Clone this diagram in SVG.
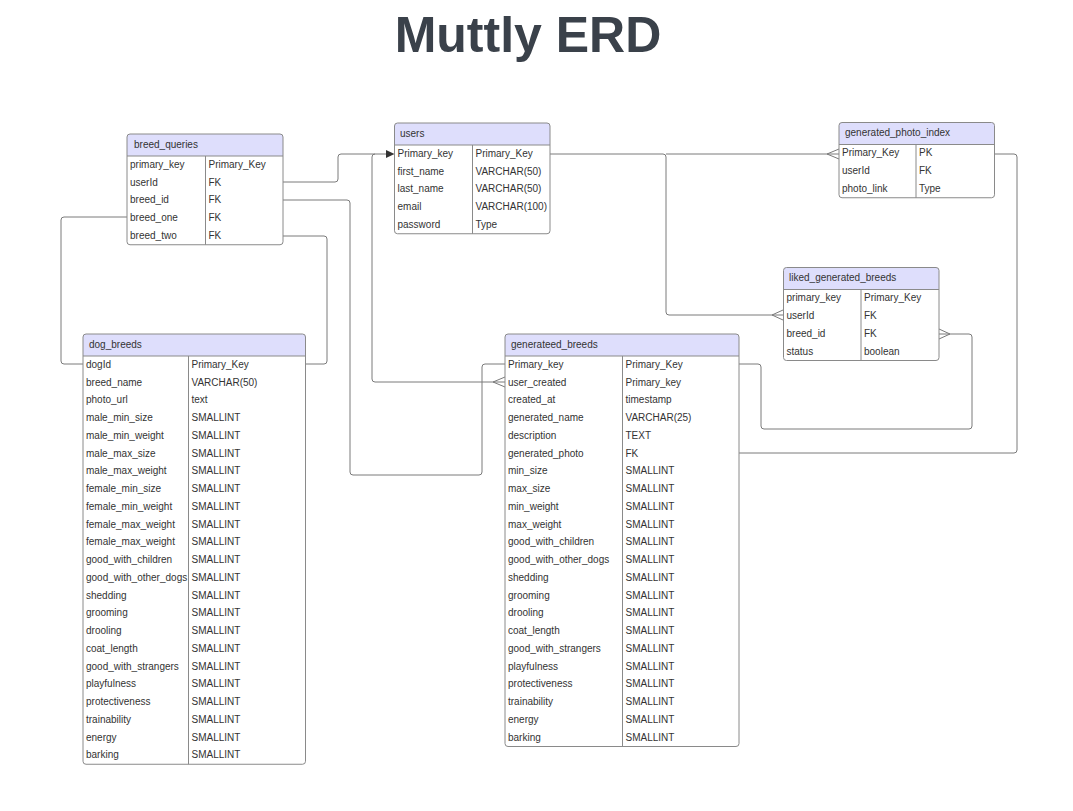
<svg xmlns="http://www.w3.org/2000/svg" width="1073" height="811" viewBox="0 0 1073 811">
<style>
.bg{fill:#ffffff}
.box{fill:none;stroke:#8a8a8a;stroke-width:1}
.body{fill:#ffffff}
.hdr{fill:#dedefc;stroke:none}
.ln{stroke:#8a8a8a;stroke-width:1;fill:none}
.t{font-family:"Liberation Sans",Arial,sans-serif;font-size:10px;fill:#333333}
.title{font-family:"Liberation Sans",Arial,sans-serif;font-size:50px;font-weight:bold;fill:#3a414a}
.c{fill:none;stroke:#7a7a7a;stroke-width:1}
.arr{fill:#333333;stroke:none}
</style>
<rect class="bg" x="0" y="0" width="1073" height="811"/>
<text class="title" x="528" y="52" text-anchor="middle">Muttly ERD</text>

<g id="connectors">
  <path class="c" d="M283,182 H335 Q338,182 338,179 V157 Q338,154 341,154 H388"/>
  <path class="c" d="M505,382 H375 Q372,382 372,379 V157 Q372,154 375,154"/>
  <polygon class="arr" points="386,150 394.5,154 386,158"/>
  <path class="c" d="M505,377 L493,382 L505,387"/>
  <path class="c" d="M283,200 H347 Q350,200 350,203 V472 Q350,475 353,475 H479 Q482,475 482,472 V367 Q482,364 485,364 H505"/>
  <path class="c" d="M283,236 H324 Q327,236 327,239 V361 Q327,364 324,364 H305"/>
  <path class="c" d="M127,217 H64 Q61,217 61,220 V361 Q61,364 64,364 H83"/>
  <path class="c" d="M550,154 H663 Q666,154 666,157 V312 Q666,315 669,315 H783"/>
  <path class="c" d="M783,310 L772,315 L783,320"/>
  <path class="c" d="M666,154 H839"/>
  <path class="c" d="M839,149 L827,154 L839,159"/>
  <path class="c" d="M994,154 H1014 Q1017,154 1017,157 V450 Q1017,453 1014,453 H739"/>
  <path class="c" d="M739,364 H758 Q761,364 761,367 V426 Q761,429 764,429 H969 Q972,429 972,426 V337 Q972,334 969,334 H939"/>
  <path class="c" d="M939,329 L950,334 L939,339"/>
</g>

<g id="breed_queries">
  <rect class="body" x="127" y="134" width="156" height="110.75" rx="3"/>
  <path class="hdr" d="M127,156 V137 Q127,134 130,134 H280 Q283,134 283,137 V156 Z"/>
  <line class="ln" x1="127" y1="156" x2="283" y2="156"/>
  <line class="ln" x1="205.5" y1="156" x2="205.5" y2="244.75"/>
  <rect class="box" x="127" y="134" width="156" height="110.75" rx="3"/>
  <text class="t" x="134" y="147.5">breed_queries</text>
  <text class="t" x="130" y="167.8">primary_key</text><text class="t" x="208.5" y="167.8">Primary_Key</text>
  <text class="t" x="130" y="185.55">userId</text><text class="t" x="208.5" y="185.55">FK</text>
  <text class="t" x="130" y="203.3">breed_id</text><text class="t" x="208.5" y="203.3">FK</text>
  <text class="t" x="130" y="221.05">breed_one</text><text class="t" x="208.5" y="221.05">FK</text>
  <text class="t" x="130" y="238.8">breed_two</text><text class="t" x="208.5" y="238.8">FK</text>
</g>

<g id="users">
  <rect class="body" x="394.5" y="123" width="155.5" height="110.75" rx="3"/>
  <path class="hdr" d="M394.5,145 V126 Q394.5,123 397.5,123 H547 Q550,123 550,126 V145 Z"/>
  <line class="ln" x1="394.5" y1="145" x2="550" y2="145"/>
  <line class="ln" x1="472.5" y1="145" x2="472.5" y2="233.75"/>
  <rect class="box" x="394.5" y="123" width="155.5" height="110.75" rx="3"/>
  <text class="t" x="400" y="136.5">users</text>
  <text class="t" x="397.5" y="156.8">Primary_key</text><text class="t" x="475.5" y="156.8">Primary_Key</text>
  <text class="t" x="397.5" y="174.55">first_name</text><text class="t" x="475.5" y="174.55">VARCHAR(50)</text>
  <text class="t" x="397.5" y="192.3">last_name</text><text class="t" x="475.5" y="192.3">VARCHAR(50)</text>
  <text class="t" x="397.5" y="210.05">email</text><text class="t" x="475.5" y="210.05">VARCHAR(100)</text>
  <text class="t" x="397.5" y="227.8">password</text><text class="t" x="475.5" y="227.8">Type</text>
</g>

<g id="generated_photo_index">
  <rect class="body" x="839" y="122.5" width="155.5" height="75.25" rx="3"/>
  <path class="hdr" d="M839,144.5 V125.5 Q839,122.5 842,122.5 H991.5 Q994.5,122.5 994.5,125.5 V144.5 Z"/>
  <line class="ln" x1="839" y1="144.5" x2="994.5" y2="144.5"/>
  <line class="ln" x1="916" y1="144.5" x2="916" y2="197.75"/>
  <rect class="box" x="839" y="122.5" width="155.5" height="75.25" rx="3"/>
  <text class="t" x="845" y="136">generated_photo_index</text>
  <text class="t" x="842" y="156.3">Primary_Key</text><text class="t" x="919" y="156.3">PK</text>
  <text class="t" x="842" y="174.05">userId</text><text class="t" x="919" y="174.05">FK</text>
  <text class="t" x="842" y="191.8">photo_link</text><text class="t" x="919" y="191.8">Type</text>
</g>

<g id="liked_generated_breeds">
  <rect class="body" x="783.5" y="267.5" width="155.5" height="93" rx="3"/>
  <path class="hdr" d="M783.5,289.5 V270.5 Q783.5,267.5 786.5,267.5 H936 Q939,267.5 939,270.5 V289.5 Z"/>
  <line class="ln" x1="783.5" y1="289.5" x2="939" y2="289.5"/>
  <line class="ln" x1="861" y1="289.5" x2="861" y2="360.5"/>
  <rect class="box" x="783.5" y="267.5" width="155.5" height="93" rx="3"/>
  <text class="t" x="789" y="281">liked_generated_breeds</text>
  <text class="t" x="786.5" y="301.3">primary_key</text><text class="t" x="864" y="301.3">Primary_Key</text>
  <text class="t" x="786.5" y="319.05">userId</text><text class="t" x="864" y="319.05">FK</text>
  <text class="t" x="786.5" y="336.8">breed_id</text><text class="t" x="864" y="336.8">FK</text>
  <text class="t" x="786.5" y="354.55">status</text><text class="t" x="864" y="354.55">boolean</text>
</g>

<g id="generateed_breeds">
  <rect class="body" x="505" y="334" width="234" height="412.5" rx="3"/>
  <path class="hdr" d="M505,356 V337 Q505,334 508,334 H736 Q739,334 739,337 V356 Z"/>
  <line class="ln" x1="505" y1="356" x2="739" y2="356"/>
  <line class="ln" x1="622.5" y1="356" x2="622.5" y2="746.5"/>
  <rect class="box" x="505" y="334" width="234" height="412.5" rx="3"/>
  <text class="t" x="511" y="347.5">generateed_breeds</text>
  <text class="t" x="508" y="367.8">Primary_key</text><text class="t" x="625.5" y="367.8">Primary_Key</text>
  <text class="t" x="508" y="385.55">user_created</text><text class="t" x="625.5" y="385.55">Primary_key</text>
  <text class="t" x="508" y="403.3">created_at</text><text class="t" x="625.5" y="403.3">timestamp</text>
  <text class="t" x="508" y="421.05">generated_name</text><text class="t" x="625.5" y="421.05">VARCHAR(25)</text>
  <text class="t" x="508" y="438.8">description</text><text class="t" x="625.5" y="438.8">TEXT</text>
  <text class="t" x="508" y="456.55">generated_photo</text><text class="t" x="625.5" y="456.55">FK</text>
  <text class="t" x="508" y="474.3">min_size</text><text class="t" x="625.5" y="474.3">SMALLINT</text>
  <text class="t" x="508" y="492.05">max_size</text><text class="t" x="625.5" y="492.05">SMALLINT</text>
  <text class="t" x="508" y="509.8">min_weight</text><text class="t" x="625.5" y="509.8">SMALLINT</text>
  <text class="t" x="508" y="527.55">max_weight</text><text class="t" x="625.5" y="527.55">SMALLINT</text>
  <text class="t" x="508" y="545.3">good_with_children</text><text class="t" x="625.5" y="545.3">SMALLINT</text>
  <text class="t" x="508" y="563.05">good_with_other_dogs</text><text class="t" x="625.5" y="563.05">SMALLINT</text>
  <text class="t" x="508" y="580.8">shedding</text><text class="t" x="625.5" y="580.8">SMALLINT</text>
  <text class="t" x="508" y="598.55">grooming</text><text class="t" x="625.5" y="598.55">SMALLINT</text>
  <text class="t" x="508" y="616.3">drooling</text><text class="t" x="625.5" y="616.3">SMALLINT</text>
  <text class="t" x="508" y="634.05">coat_length</text><text class="t" x="625.5" y="634.05">SMALLINT</text>
  <text class="t" x="508" y="651.8">good_with_strangers</text><text class="t" x="625.5" y="651.8">SMALLINT</text>
  <text class="t" x="508" y="669.55">playfulness</text><text class="t" x="625.5" y="669.55">SMALLINT</text>
  <text class="t" x="508" y="687.3">protectiveness</text><text class="t" x="625.5" y="687.3">SMALLINT</text>
  <text class="t" x="508" y="705.05">trainability</text><text class="t" x="625.5" y="705.05">SMALLINT</text>
  <text class="t" x="508" y="722.8">energy</text><text class="t" x="625.5" y="722.8">SMALLINT</text>
  <text class="t" x="508" y="740.55">barking</text><text class="t" x="625.5" y="740.55">SMALLINT</text>
</g>

<g id="dog_breeds">
  <rect class="body" x="83" y="334" width="222.5" height="430.25" rx="3"/>
  <path class="hdr" d="M83,356 V337 Q83,334 86,334 H302.5 Q305.5,334 305.5,337 V356 Z"/>
  <line class="ln" x1="83" y1="356" x2="305.5" y2="356"/>
  <line class="ln" x1="188.5" y1="356" x2="188.5" y2="764.25"/>
  <rect class="box" x="83" y="334" width="222.5" height="430.25" rx="3"/>
  <text class="t" x="89" y="347.5">dog_breeds</text>
  <text class="t" x="86" y="367.8">dogId</text><text class="t" x="191.5" y="367.8">Primary_Key</text>
  <text class="t" x="86" y="385.55">breed_name</text><text class="t" x="191.5" y="385.55">VARCHAR(50)</text>
  <text class="t" x="86" y="403.3">photo_url</text><text class="t" x="191.5" y="403.3">text</text>
  <text class="t" x="86" y="421.05">male_min_size</text><text class="t" x="191.5" y="421.05">SMALLINT</text>
  <text class="t" x="86" y="438.8">male_min_weight</text><text class="t" x="191.5" y="438.8">SMALLINT</text>
  <text class="t" x="86" y="456.55">male_max_size</text><text class="t" x="191.5" y="456.55">SMALLINT</text>
  <text class="t" x="86" y="474.3">male_max_weight</text><text class="t" x="191.5" y="474.3">SMALLINT</text>
  <text class="t" x="86" y="492.05">female_min_size</text><text class="t" x="191.5" y="492.05">SMALLINT</text>
  <text class="t" x="86" y="509.8">female_min_weight</text><text class="t" x="191.5" y="509.8">SMALLINT</text>
  <text class="t" x="86" y="527.55">female_max_weight</text><text class="t" x="191.5" y="527.55">SMALLINT</text>
  <text class="t" x="86" y="545.3">female_max_weight</text><text class="t" x="191.5" y="545.3">SMALLINT</text>
  <text class="t" x="86" y="563.05">good_with_children</text><text class="t" x="191.5" y="563.05">SMALLINT</text>
  <text class="t" x="86" y="580.8">good_with_other_dogs</text><text class="t" x="191.5" y="580.8">SMALLINT</text>
  <text class="t" x="86" y="598.55">shedding</text><text class="t" x="191.5" y="598.55">SMALLINT</text>
  <text class="t" x="86" y="616.3">grooming</text><text class="t" x="191.5" y="616.3">SMALLINT</text>
  <text class="t" x="86" y="634.05">drooling</text><text class="t" x="191.5" y="634.05">SMALLINT</text>
  <text class="t" x="86" y="651.8">coat_length</text><text class="t" x="191.5" y="651.8">SMALLINT</text>
  <text class="t" x="86" y="669.55">good_with_strangers</text><text class="t" x="191.5" y="669.55">SMALLINT</text>
  <text class="t" x="86" y="687.3">playfulness</text><text class="t" x="191.5" y="687.3">SMALLINT</text>
  <text class="t" x="86" y="705.05">protectiveness</text><text class="t" x="191.5" y="705.05">SMALLINT</text>
  <text class="t" x="86" y="722.8">trainability</text><text class="t" x="191.5" y="722.8">SMALLINT</text>
  <text class="t" x="86" y="740.55">energy</text><text class="t" x="191.5" y="740.55">SMALLINT</text>
  <text class="t" x="86" y="758.3">barking</text><text class="t" x="191.5" y="758.3">SMALLINT</text>
</g>
</svg>
